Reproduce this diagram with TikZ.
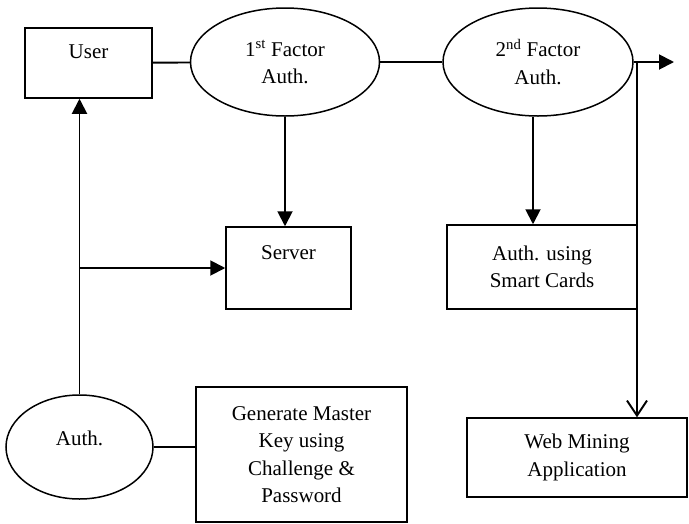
\documentclass[tikz,border=0pt]{standalone}
\usepackage{fontspec}
\setmainfont{Liberation Serif}
\usetikzlibrary{shapes.geometric,arrows.meta}

\begin{document}
\begin{tikzpicture}[x=1pt, y=1pt,
  box/.style={rectangle, draw=black, line width=1.5pt, inner sep=0pt, align=center},
  oval/.style={ellipse, draw=black, line width=1.5pt, inner sep=0pt, align=center},
  link/.style={line width=1.9pt, color=black},
  tip/.style={-{Triangle[length=15pt, width=15pt]}},
  every node/.append style={font=\fontsize{21}{27.5}\selectfont}]
\useasboundingbox (0,0) rectangle (689,-523);
\node (1) [box, minimum width=127pt, text height=30pt, text depth=40pt] at (88.5, -63.0) {User};
\node (2) [oval, minimum width=189pt, minimum height=108pt] at (285.0, -62.0) {1\textsuperscript{st} Factor\\Auth.};
\node (3) [oval, minimum width=190pt, minimum height=108pt] at (538.0, -62.0) {2\textsuperscript{nd} Factor\\Auth.};
\node (4) [box, minimum width=125pt, text height=32pt, text depth=50pt] at (288.5, -268.0) {Server};
\node (5) [box, minimum width=190pt, minimum height=84pt] at (542.0, -267.0) {Auth. using\\Smart Cards};
\node (6) [box, minimum width=220pt, minimum height=79pt] at (577.0, -457.5) {Web Mining\\Application};
\node (7) [box, minimum width=211pt, minimum height=135pt] at (301.5, -454.5) {Generate Master\\Key using\\Challenge \&\\Password};
\node (8) [oval, minimum width=147pt, minimum height=104pt, text height=15pt, text depth=19pt] at (79.5, -447.0) {Auth.};
\coordinate (9) at (637.0, -62.0);
\coordinate (10) at (674.0, -62.0);
\coordinate (11) at (8.north |- 4.west);
\draw [link] (1) -- (2);
\draw [link] (2) -- (3);
\draw [link, tip] (3.east) -- (10);
\draw [link, -{Straight Barb[length=15pt, width=20pt]}] (9) -- (9 |- 6.north);
\draw [link, tip] (2.south) -- (2.south |- 4.north);
\draw [link, tip] ([xshift=-5pt]3.south) -- ([xshift=-5pt]3.south |- 5.north);
\draw [link, tip] (8.north) -- (8.north |- 1.south);
\draw [link, tip] (11) -- (4.west);
\draw [link] (8.east) -- (8.east -| 7.west);
\end{tikzpicture}
\end{document}
